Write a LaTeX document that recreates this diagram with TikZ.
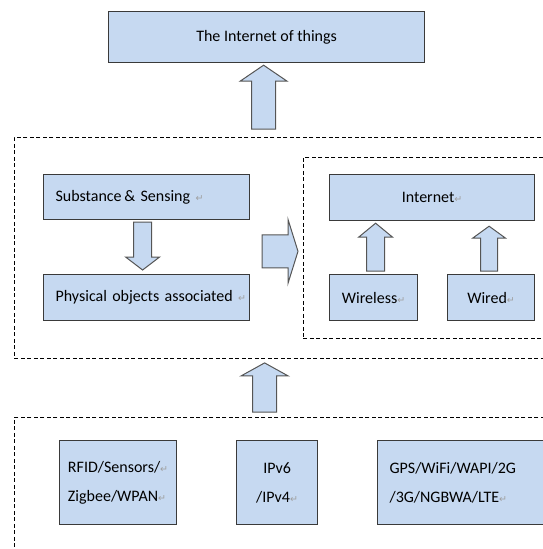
\documentclass[tikz,border=0pt]{standalone}
\usepackage{fontspec}
\setmainfont{Carlito}
\newfontfamily\markfont{DejaVu Sans}
\usetikzlibrary{calc}

\definecolor{boxfill}{HTML}{C6D9F1}
\definecolor{boxline}{HTML}{3A3A3A}
\definecolor{arrline}{HTML}{555555}

\newcommand{\retmark}{{\markfont\fontsize{9.5}{9.5}\selectfont\color{gray!75}↵}}

\tikzset{
  every picture/.style={line width=0.75pt},
  blue box/.style={draw=boxline, fill=boxfill, line width=1.2pt, inner sep=0pt,
    font=\fontsize{16}{29}\selectfont, text=black},
  layer box/.style={draw=black, dash pattern=on 4pt off 2.5pt, line width=0.9pt, inner sep=0pt},
  blockarr/.style={draw=arrline, fill=boxfill, line width=1pt, line join=miter},
}

% block arrow: #1 base, #2 tip, #3 half shaft, #4 half head, #5 head length
\newcommand{\blockarrow}[5]{%
  \path ($(#2)!#5pt!(#1)$) coordinate (hb);
  \draw[blockarr] ($(#1)!#3pt!90:(#2)$) -- ($(hb)!#3pt!90:(#2)$) -- ($(hb)!#4pt!90:(#2)$) -- (#2)
    -- ($(hb)!#4pt!-90:(#2)$) -- ($(hb)!#3pt!-90:(#2)$) -- ($(#1)!#3pt!-90:(#2)$) -- cycle;}

\begin{document}
\begin{tikzpicture}[
            x=1pt,
            y=1pt,
            yscale=-1,
            xscale=1
        ]
            \useasboundingbox (0,0) rectangle (543,549);
            \clip (0,0) rectangle (543,549);

            % dashed layers
            \node[layer box, minimum width=546pt, minimum height=221pt, anchor=north west] (things) at (14,137) {};
            \node[layer box, minimum width=257pt, minimum height=181pt, anchor=north west] (net) at (303,157) {};
            \node[layer box, minimum width=546pt, minimum height=160pt, anchor=north west] (access) at (14,417) {};

            \node[blue box, minimum width=316pt, minimum height=51pt, anchor=north west] (iot) at (108,11) {The Internet of things};

            \node[blue box, text width=182pt, inner xsep=12pt, align=left, minimum height=45pt, anchor=north west] (sensing) at (43,174) {\mbox{Substance\,\& Sensing~\retmark}};
            \node[blue box, text width=182pt, inner xsep=12pt, align=left, minimum height=46pt, anchor=north west] (objects) at (43,274) {\mbox{Physical objects associated~\retmark}};

            \node[blue box, minimum width=205pt, minimum height=46pt, anchor=north west] (internet) at (329,174) {Internet\retmark};
            \node[blue box, minimum width=88pt, minimum height=46pt, anchor=north west] (wireless) at (329,274) {Wireless\retmark};
            \node[blue box, minimum width=87pt, minimum height=46pt, anchor=north west] (wired) at (447,274) {Wired\retmark};

            \node[blue box, minimum width=117pt, minimum height=84pt, align=left, anchor=north west] (rfid) at (59,440)
              {RFID/Sensors/\retmark\\Zigbee/WPAN\retmark};
            \node[blue box, minimum width=81pt, minimum height=84pt, align=center, anchor=north west] (ip) at (236,440)
              {IPv6\\/IPv4\retmark};
            \node[blue box, text width=150pt, inner xsep=12pt, minimum height=84pt, align=left, anchor=north west] (gps) at (377,440)
              {GPS/WiFi/WAPI/2G\\/3G/NGBWA/LTE\retmark};

            % arrows
            \coordinate (a1b) at ($(iot.south |- things.north)+(-3,-8)$);
            \coordinate (a1t) at ($(iot.south)+(-3,2)$);
            \blockarrow{a1b}{a1t}{12}{23.5}{16}

            \coordinate (a2b) at ($(sensing.south)+(-4,2)$);
            \coordinate (a2t) at ($(objects.north)+(-4,-4)$);
            \blockarrow{a2b}{a2t}{9}{17}{13}

            \coordinate (a3b) at ($(sensing.east)!0.5!(objects.east)+(12,4)$);
            \coordinate (a3t) at ($(net.west |- a3b)+(-5,0)$);
            \blockarrow{a3b}{a3t}{16.5}{32}{10}

            \coordinate (a4b) at ($(wireless.north)+(2,-3)$);
            \coordinate (a4t) at ($(internet.south -| a4b)+(0,2)$);
            \blockarrow{a4b}{a4t}{9}{17}{14}

            \coordinate (a5b) at ($(wired.north)+(-2,-3)$);
            \coordinate (a5t) at ($(internet.south -| a5b)+(0,5)$);
            \blockarrow{a5b}{a5t}{8.5}{16.5}{12}

            \coordinate (a6b) at ($(access.north -| iot.south)+(-2,-5)$);
            \coordinate (a6t) at ($(things.south -| a6b)+(0,4)$);
            \blockarrow{a6b}{a6t}{12}{23.5}{13}
        \end{tikzpicture}
\end{document}
